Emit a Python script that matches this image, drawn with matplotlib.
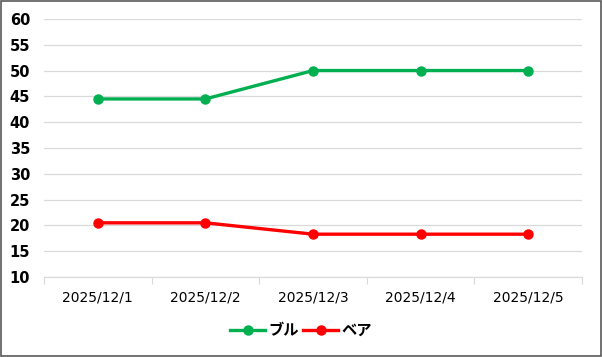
import matplotlib.pyplot as plt
from matplotlib.patches import Rectangle

dates = ['2025/12/1', '2025/12/2', '2025/12/3', '2025/12/4', '2025/12/5']
bull = [44.5, 44.5, 50, 50, 50]
bear = [20.5, 20.5, 18.3, 18.3, 18.3]
yticks = list(range(10, 61, 5))

plt.rcParams['font.family'] = ['DejaVu Sans', 'Noto Sans CJK JP']

fig = plt.figure(figsize=(6.02, 3.57), dpi=100)
ax = fig.add_axes([0.073, 0.224, 0.894, 0.723])
x = range(len(dates))
ax.plot(x, bull, color='#00b050', lw=2.4, marker='o', ms=6.5, label='ブル')
ax.plot(x, bear, color='#ff0000', lw=2.4, marker='o', ms=6.5, label='ベア')

ax.set_xlim(-0.5, len(dates) - 0.5)
ax.set_ylim(10, 60)
ax.set_yticks(yticks)
ax.set_yticklabels([str(v) for v in yticks], fontweight='bold', fontsize=10.5)
ax.set_xticks([i + 0.5 for i in range(-1, len(dates))], minor=False)
ax.set_xticklabels([])
ax.set_xticks(list(x), minor=True)
ax.set_xticklabels(dates, minor=True, fontsize=10)
ax.tick_params(axis='x', which='major', length=5, color='#d9d9d9', direction='out')
ax.tick_params(axis='x', which='minor', length=0, pad=10)
ax.tick_params(axis='y', length=0, pad=10)
ax.grid(axis='y', color='#d9d9d9', lw=0.9)
ax.set_axisbelow(True)
for s in ['top', 'right', 'left']:
    ax.spines[s].set_visible(False)
ax.spines['bottom'].set_color('#d9d9d9')

leg = fig.legend(loc='center', bbox_to_anchor=(0.5, 0.075), ncol=2, frameon=False,
                 handlelength=2.3, handletextpad=0.2, columnspacing=0.3,
                 prop={'family': ['Noto Sans CJK JP'], 'weight': 'bold', 'size': 11})

fig.patches.append(Rectangle((0.001, 0.002), 0.997, 0.995, transform=fig.transFigure,
                             fill=False, edgecolor='#595959', lw=1.2))
fig.savefig('out.png', dpi=100)
